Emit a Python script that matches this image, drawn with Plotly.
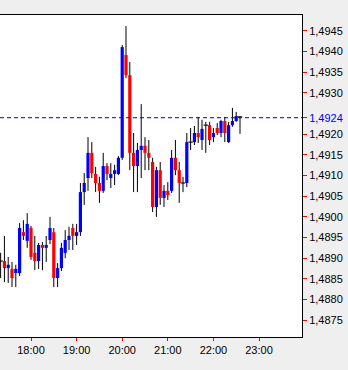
import plotly.graph_objects as go

times = ["17:20","17:25","17:30","17:35","17:40","17:45","17:50","17:55",
         "18:00","18:05","18:10","18:15","18:20","18:25","18:30","18:35",
         "18:40","18:45","18:50","18:55","19:00","19:05","19:10","19:15",
         "19:20","19:25","19:30","19:35","19:40","19:45","19:50","19:55",
         "20:00","20:05","20:10","20:15","20:20","20:25","20:30","20:35",
         "20:40","20:45","20:50","20:55","21:00","21:05","21:10","21:15",
         "21:20","21:25","21:30","21:35","21:40","21:45","21:50","21:55",
         "22:00","22:05","22:10","22:15","22:20","22:25","22:30","22:35"]

opens = [1.48893, 1.48893, 1.48876, 1.48874, 1.48864, 1.48864, 1.48963, 1.48942, 1.48973, 1.48913,
         1.48893, 1.48932, 1.48925, 1.48944, 1.48963, 1.48852, 1.48876, 1.48913, 1.48944, 1.48973,
         1.48954, 1.48963, 1.49060, 1.49094, 1.49155, 1.49104, 1.49082, 1.49063, 1.49123, 1.49094,
         1.49104, 1.49104, 1.49143, 1.49392, 1.49343, 1.49155, 1.49123, 1.49162, 1.49172, 1.49155,
         1.49133, 1.49024, 1.49113, 1.49046, 1.49063, 1.49063, 1.49143, 1.49113, 1.49082, 1.49082,
         1.49181, 1.49181, 1.49203, 1.49186, 1.49222, 1.49222, 1.49193, 1.49215, 1.49203, 1.49232,
         1.49181, 1.49222, 1.49232, 1.49242]

closes = [1.48893, 1.48876, 1.48884, 1.48852, 1.48874, 1.48973, 1.48954, 1.48983, 1.48903, 1.48893,
          1.48932, 1.48925, 1.48932, 1.48973, 1.48852, 1.48876, 1.48925, 1.48944, 1.48954, 1.48954,
          1.48963, 1.49060, 1.49082, 1.49155, 1.49106, 1.49082, 1.49063, 1.49123, 1.49104, 1.49104,
          1.49113, 1.49143, 1.49411, 1.49343, 1.49155, 1.49123, 1.49162, 1.49172, 1.49155, 1.49143,
          1.49024, 1.49113, 1.49046, 1.49063, 1.49053, 1.49143, 1.49113, 1.49082, 1.49082, 1.49181,
          1.49181, 1.49203, 1.49193, 1.49213, 1.49222, 1.49186, 1.49203, 1.49203, 1.49232, 1.49203,
          1.49222, 1.49232, 1.49244, 1.49242]

highs = [1.48913, 1.48954, 1.48903, 1.48891, 1.48884, 1.48985, 1.48992, 1.49009, 1.48978, 1.48954,
         1.48937, 1.48939, 1.48954, 1.49000, 1.48973, 1.48888, 1.48937, 1.48968, 1.48976, 1.48983,
         1.48983, 1.49082, 1.49106, 1.49193, 1.49181, 1.49121, 1.49097, 1.49155, 1.49130, 1.49130,
         1.49126, 1.49147, 1.49416, 1.49462, 1.49375, 1.49203, 1.49179, 1.49273, 1.49193, 1.49186,
         1.49143, 1.49121, 1.49133, 1.49077, 1.49084, 1.49162, 1.49186, 1.49133, 1.49097, 1.49203,
         1.49215, 1.49220, 1.49242, 1.49235, 1.49230, 1.49230, 1.49215, 1.49227, 1.49235, 1.49242,
         1.49230, 1.49264, 1.49254, 1.49244]

lows = [1.48852, 1.48842, 1.48840, 1.48830, 1.48830, 1.48857, 1.48944, 1.48925, 1.48896, 1.48871,
        1.48874, 1.48871, 1.48891, 1.48934, 1.48830, 1.48830, 1.48869, 1.48900, 1.48920, 1.48920,
        1.48932, 1.48954, 1.49029, 1.49063, 1.49094, 1.49060, 1.49034, 1.49058, 1.49089, 1.49070,
        1.49077, 1.49101, 1.49138, 1.49336, 1.49113, 1.49060, 1.49060, 1.49094, 1.49113, 1.49113,
        1.49012, 1.49000, 1.49029, 1.49024, 1.49041, 1.49058, 1.49101, 1.49034, 1.49060, 1.49072,
        1.49162, 1.49174, 1.49179, 1.49162, 1.49155, 1.49174, 1.49181, 1.49198, 1.49193, 1.49181,
        1.49179, 1.49218, 1.49230, 1.49201]

current_price = 1.4924
y_tick_values = [1.4945, 1.4940, 1.4935, 1.4930, 1.4920, 1.4915, 1.4910, 1.4905,
                 1.4900, 1.4895, 1.4890, 1.4885, 1.4880, 1.4875]
x_tick_labels = ["18:00", "19:00", "20:00", "21:00", "22:00", "23:00"]

DAY = "2010-01-04 "
xs = [DAY + t for t in times]

UP, DOWN, DOJI = "#0000ff", "#ff0000", "#000000"
doji_half = 0.000013

# wick segments
wx, wy = [], []
for x, h, l in zip(xs, highs, lows):
    wx += [x, x, None]
    wy += [l, h, None]

# body segments grouped by colour
groups = {UP: ([], []), DOWN: ([], []), DOJI: ([], [])}
for x, o, c in zip(xs, opens, closes):
    if abs(c - o) < 1e-9:
        gx, gy = groups[DOJI]
        gx += [x, x, None]
        gy += [o - doji_half, o + doji_half, None]
    else:
        col = UP if c > o else DOWN
        gx, gy = groups[col]
        gx += [x, x, None]
        gy += [o, c, None]

fig = go.Figure()
fig.add_trace(go.Scatter(x=wx, y=wy, mode="lines",
                         line=dict(color="black", width=1),
                         hoverinfo="skip", showlegend=False))
for col, w in ((UP, 3.2), (DOWN, 3.2), (DOJI, 4.5)):
    gx, gy = groups[col]
    fig.add_trace(go.Scatter(x=gx, y=gy, mode="lines",
                             line=dict(color=col, width=w),
                             hoverinfo="skip", showlegend=False))

fmt = lambda v: f"{v:.4f}".replace(".", ",")
tickvals = y_tick_values + [current_price]
ticktext = [fmt(v) for v in y_tick_values] + \
           ['<span style="color:#0000ff">' + fmt(current_price) + '</span>']

fig.add_shape(type="line", xref="paper", x0=0, x1=1, yref="y",
              y0=current_price, y1=current_price,
              line=dict(color="#0000cc", width=1, dash="4px,3px"))

fig.update_layout(
    width=348, height=370,
    margin=dict(l=0, r=46, t=15, b=33),
    paper_bgcolor="#efefef", plot_bgcolor="#ffffff",
    font=dict(family="Liberation Sans, Arial, sans-serif", size=11, color="black"),
    xaxis=dict(type="date",
               range=[DAY + "17:19:12", DAY + "23:56:34"],
               tickvals=[DAY + t for t in x_tick_labels],
               ticktext=x_tick_labels,
               ticks="outside", ticklen=3, tickcolor="#ff0000",
               showgrid=False, zeroline=False,
               showline=True, linecolor="black", linewidth=1, mirror=True),
    yaxis=dict(side="right", range=[1.487092, 1.494887],
               tickvals=tickvals, ticktext=ticktext,
               ticks="outside", ticklen=4, tickcolor="#ff0000",
               showgrid=False, zeroline=False,
               showline=True, linecolor="black", linewidth=1),
)

fig.write_html("out.html")
